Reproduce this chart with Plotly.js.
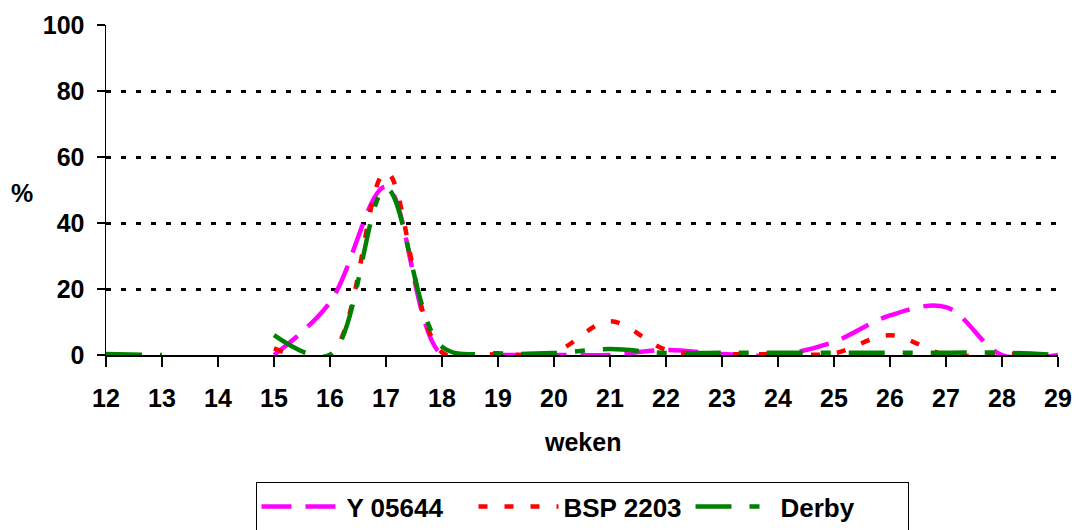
<!DOCTYPE html>
<html>
<head>
<meta charset="utf-8">
<script src="https://cdn.plot.ly/plotly-3.0.1.min.js"></script>
<style>html,body{margin:0;padding:0;background:#fff;}#chart{width:1079px;height:530px;}</style>
</head>
<body>
<div id="chart"></div>
<script>
const weeks = [12,13,14,15,16,17,18,19,20,21,22,23,24,25,26,27,28,29];
const seriesNames = ["Y 05644", "BSP 2203", "Derby"];
const y05644 = [null,null,null,0,16,51,0,0,0,0,1.5,0.3,0,4,12,14.5,0,0];
const bsp2203 = [null,null,null,2,0,55.5,0.8,0.3,0.8,10.2,1.6,0.3,0.3,0.5,6,0,0.3,0];
const derby   = [0.3,0,null,6,0,50.5,2.5,0.5,0.6,1.8,0.6,0.7,0.7,0.7,0.7,0.7,0.7,0];
const xTicks = [12,13,14,15,16,17,18,19,20,21,22,23,24,25,26,27,28,29];
const yTicks = [0,20,40,60,80,100];

const F = 'Liberation Sans, Arial, sans-serif';
const styles = [
  {color:'#ff00ff', dash:'30px,14px'},
  {color:'#ff0000', dash:'9px,17px'},
  {color:'#008000', dash:'36px,18px,10px,18px'}
];
const vals = [y05644, bsp2203, derby];
const traces = vals.map((v,i)=>({
  x: weeks, y: v, name: seriesNames[i], type:'scatter', mode:'lines',
  connectgaps:false,
  line:{color:styles[i].color, width:4.5, dash:styles[i].dash, shape:'spline', smoothing:1}
}));

const layout = {
  width:1079, height:530,
  margin:{l:106, r:21, t:25, b:175, autoexpand:false},
  paper_bgcolor:'#fff', plot_bgcolor:'#fff',
  showlegend:true,
  legend:{orientation:'h', x:0.5, xanchor:'center', y:-0.385, yanchor:'top',
    bordercolor:'#000', borderwidth:1, bgcolor:'#fff', itemwidth:80, entrywidth:122,
    font:{family:F, size:26, color:'#000', weight:'bold'}},
  xaxis:{range:[12,29], tickvals:xTicks, ticktext:xTicks.map(String), showgrid:false, zeroline:false,
    showline:true, linecolor:'#000', linewidth:1.5, ticks:'outside', ticklen:10, tickcolor:'#000', tickwidth:1.5,
    ticklabelstandoff:10,
    tickfont:{family:F, size:25, color:'#000', weight:'bold'}},
  yaxis:{range:[0,100], tickvals:yTicks, ticktext:yTicks.map(String), showgrid:true, gridcolor:'#000',
    gridwidth:3, griddash:'5px,10px', zeroline:false,
    showline:true, linecolor:'#000', linewidth:1.5, ticks:'outside', ticklen:8, tickcolor:'#000', tickwidth:1.5,
    ticklabelstandoff:7,
    tickfont:{family:F, size:25, color:'#000', weight:'bold'}},
  annotations:[
    {text:'%', xref:'paper', yref:'paper', x:-0.088, y:0.49, xanchor:'center', yanchor:'middle', showarrow:false,
     font:{family:F, size:25, color:'#000', weight:'bold'}},
    {text:'weken', xref:'paper', yref:'paper', x:0.5, y:-0.265, xanchor:'center', yanchor:'middle', showarrow:false,
     font:{family:F, size:25, color:'#000', weight:'bold'}}
  ]
};
Plotly.newPlot('chart', traces, layout, {staticPlot:true, displayModeBar:false});
</script>
</body>
</html>
